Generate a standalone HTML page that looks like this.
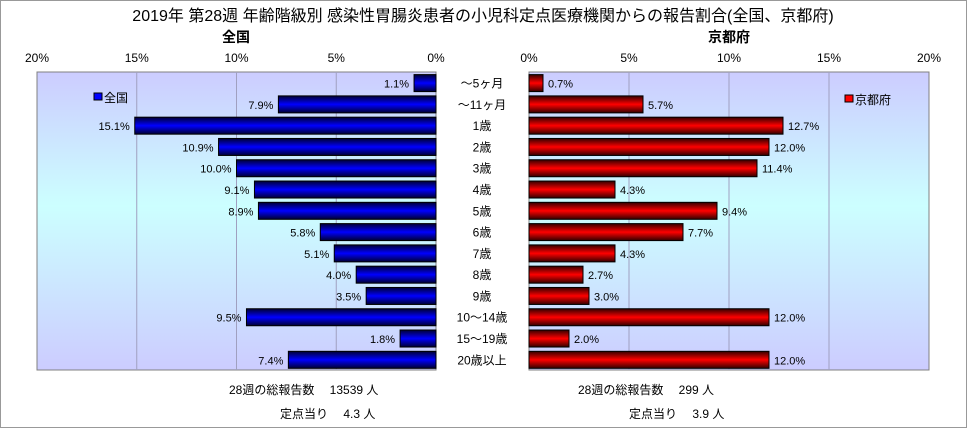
<!DOCTYPE html>
<html><head><meta charset="utf-8"><style>
body{margin:0;width:967px;height:428px;overflow:hidden;background:#fff;font-family:"Liberation Sans","Noto Sans CJK JP",sans-serif;}
</style></head><body>
<svg width="967" height="428" xmlns="http://www.w3.org/2000/svg" style="font-family:'Liberation Sans','Noto Sans CJK JP',sans-serif">
<defs>
<linearGradient id="bg" x1="0" y1="0" x2="0" y2="1"><stop offset="0" stop-color="#ccccff"/><stop offset="0.45" stop-color="#ccffff"/><stop offset="1" stop-color="#ccccff"/></linearGradient>
<linearGradient id="gb" x1="0" y1="0" x2="0" y2="1"><stop offset="0" stop-color="#000033"/><stop offset="0.5" stop-color="#0000ff"/><stop offset="1" stop-color="#000033"/></linearGradient>
<linearGradient id="gr" x1="0" y1="0" x2="0" y2="1"><stop offset="0" stop-color="#330000"/><stop offset="0.5" stop-color="#ff0000"/><stop offset="1" stop-color="#330000"/></linearGradient>
</defs>
<rect x="0.5" y="0.5" width="966" height="427" fill="#fff" stroke="#999"/>
<text x="483" y="21" font-size="16" text-anchor="middle">2019年 第28週 年齢階級別 感染性胃腸炎患者の小児科定点医療機関からの報告割合(全国、京都府)</text>
<text x="236" y="42" font-size="14" font-weight="bold" text-anchor="middle">全国</text>
<text x="729" y="42" font-size="14" font-weight="bold" text-anchor="middle">京都府</text>
<rect x="37" y="72" width="399" height="298" fill="url(#bg)" stroke="#808080"/>
<rect x="529" y="72" width="400" height="298" fill="url(#bg)" stroke="#808080"/>
<g id="g"></g>
<rect x="94" y="93" width="8" height="7" fill="#0000ff" stroke="#000"/>
<text x="104" y="102" font-size="12">全国</text>
<rect x="845" y="95" width="8" height="7" fill="#ff0000" stroke="#000"/>
<text x="855" y="104" font-size="12">京都府</text>
<text x="229" y="394" font-size="12">28週の総報告数　 13539 人</text>
<text x="280" y="418" font-size="12">定点当り　 4.3 人</text>
<text x="578" y="394" font-size="12">28週の総報告数　 299 人</text>
<text x="629" y="418" font-size="12">定点当り　 3.9 人</text>
</svg>
<script>
const categories=["～5ヶ月","～11ヶ月","1歳","2歳","3歳","4歳","5歳","6歳","7歳","8歳","9歳","10～14歳","15～19歳","20歳以上"];
const nationalValues=[1.1,7.9,15.1,10.9,10.0,9.1,8.9,5.8,5.1,4.0,3.5,9.5,1.8,7.4];
const kyotoValues=[0.7,5.7,12.7,12.0,11.4,4.3,9.4,7.7,4.3,2.7,3.0,12.0,2.0,12.0];
const tickValues=[0,5,10,15,20];
const NS="http://www.w3.org/2000/svg";
const g=document.getElementById('g');
const xL=v=>436-v*399/20, xR=v=>529+v*400/20;
const yRow=i=>72+i*298/14;
function mk(t,a){const e=document.createElementNS(NS,t);for(const k in a)e.setAttribute(k,a[k]);g.appendChild(e);return e;}
tickValues.forEach(t=>{
  if(t>0&&t<20){
    const l1=mk('line',{x1:xL(t),x2:xL(t),y1:72,y2:370,stroke:'#a0a0c0'});
    
    
    const l2=mk('line',{x1:xR(t),x2:xR(t),y1:72,y2:370,stroke:'#a0a0c0'});
    
    
  }
  const a=mk('text',{x:xL(t),y:62,'font-size':12,'text-anchor':'middle'});a.textContent=t+'%';
  
  
  const b=mk('text',{x:xR(t),y:62,'font-size':12,'text-anchor':'middle'});b.textContent=t+'%';
  
  
});
categories.forEach((c,i)=>{
  const y=yRow(i)+2.6, h=17;
  const v=nationalValues[i], k=kyotoValues[i];
  const b1=mk('rect',{x:xL(v),y:y,width:436-xL(v),height:h,fill:'url(#gb)',stroke:'#000'});
  
  
  const t1=mk('text',{x:xL(v)-5,y:y+13,'font-size':11,'text-anchor':'end'});t1.textContent=v.toFixed(1)+'%';
  
  
  const b2=mk('rect',{x:529,y:y,width:xR(k)-529,height:h,fill:'url(#gr)',stroke:'#000'});
  
  
  const t2=mk('text',{x:xR(k)+5,y:y+13,'font-size':11});t2.textContent=k.toFixed(1)+'%';
  
  
  const cl=mk('text',{x:482,y:y+13,'font-size':12,'text-anchor':'middle'});cl.textContent=c;
  
  
});
</script>
</body></html>
